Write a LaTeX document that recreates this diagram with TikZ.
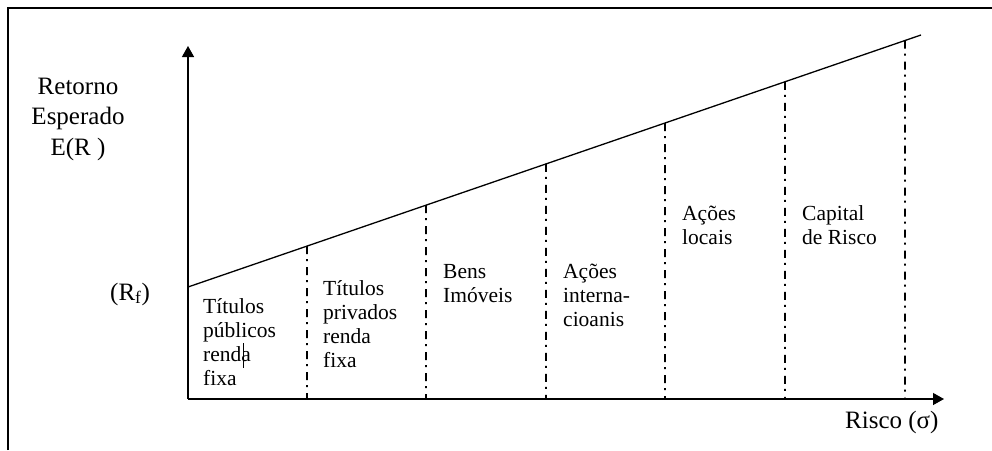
\documentclass[tikz,border=0pt]{standalone}
\usepackage{fontspec}
\setmainfont{Liberation Serif}
\usetikzlibrary{arrows.meta,calc}
\tikzset{
  lbl/.style     = {font=\fontsize{25}{30.5}\selectfont, inner sep=0pt, align=center},
  cls/.style     = {font=\fontsize{21.5}{24}\selectfont, inner sep=0pt, align=left, anchor=base west},
  axis/.style    = {-{Triangle[length=11pt,width=12pt]}, line width=1.3pt},
  divline/.style = {line width=1.8pt, dash pattern=on 8pt off 5pt on 2pt off 6pt},
  frame/.style   = {line width=2pt},
}

\begin{document}
\begin{tikzpicture}[x=1pt,y=-1pt]
  \useasboundingbox (0,0) rectangle (992,450);
  \draw[frame] (8,450) -- (8,8) -- (992,8);
  % axes and the market line
  \coordinate (o) at (188,399);
  \coordinate (ytop) at (188,46);
  \coordinate (xend) at (944,399);
  \coordinate (rf) at (188,287);
  \coordinate (cml) at (921,35);
  \draw[axis] (o) -- (ytop);
  \draw[axis] (o) -- (xend);
  \draw[line width=1.3pt] (rf) -- (cml);
  \foreach \x in {307,426,546,665,785,905}
    \draw[divline] ($(rf)!{(\x-188)/733}!(cml)$) -- (\x,399);
  % axis labels (anchored at the last line)
  \node[lbl, anchor=base] (ret) at (78,155) {Retorno\\Esperado\\E(R )};
  \node[lbl, anchor=base west] (rfl) at (110,300) {(R\textsubscript{f})};
  \node[lbl, anchor=base west] (risco) at (845,428) {Risco (σ)};
  % asset classes
  \node[cls] (tpub) at (203,385) {Títulos\\públicos\\renda\\fixa};
  \node[cls] (tpriv) at (323,367) {Títulos\\privados\\renda\\fixa};
  \node[cls] (imov) at (443,302) {Bens\\Imóveis};
  \node[cls] (aint) at (563,326) {Ações\\interna-\\cioanis};
  \node[cls] (aloc) at (682,244) {Ações\\locais};
  \node[cls] (cap) at (802,244) {Capital\\de Risco};
  \draw[line width=0.8pt] (243,343) -- (243,368);
\end{tikzpicture}
\end{document}
